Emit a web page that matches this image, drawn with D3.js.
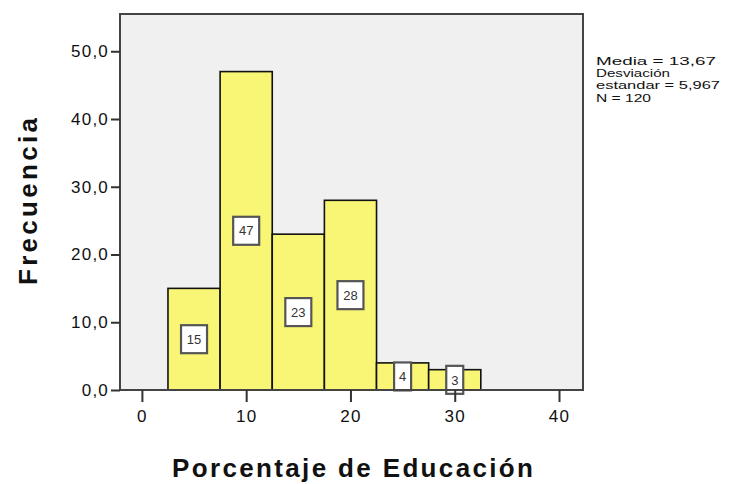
<!DOCTYPE html>
<html>
<head>
<meta charset="utf-8">
<script src="https://cdn.jsdelivr.net/npm/d3@7"></script>
<style>
html,body{margin:0;padding:0;background:#fff;}
svg{display:block;}
</style>
</head>
<body>
<svg id="chart" width="743" height="484"></svg>
<script>
const binEdges = [2.5, 7.5, 12.5, 17.5, 22.5, 27.5, 32.5];
const counts = [15, 47, 23, 28, 4, 3];
const xTicks = [0, 10, 20, 30, 40];
const yTicks = [0, 10, 20, 30, 40, 50];
const statsLines = ["Media = 13,67", "Desviación", "estandar = 5,967", "N = 120"];
const statsWidths = [120, 74, 124, 55];
const xTitle = "Porcentaje de Educación";
const yTitle = "Frecuencia";

const svg = d3.select("#chart");
const L = 120, R = 583, T = 14, B = 390;
const x = d3.scaleLinear().domain([-2.1, 42.3]).range([L, R]);
const y = d3.scaleLinear().domain([0, 55.5]).range([B, T]);
const font = "'Liberation Sans', Arial, sans-serif";

svg.append("rect").attr("x", L).attr("y", T).attr("width", R - L).attr("height", B - T)
  .attr("fill", "#f0f0f0");

const bins = counts.map((c, i) => ({x0: binEdges[i], x1: binEdges[i + 1], c}));

svg.append("g").selectAll("rect").data(bins).join("rect")
  .attr("x", d => x(d.x0)).attr("width", d => x(d.x1) - x(d.x0))
  .attr("y", d => y(d.c)).attr("height", d => y(0) - y(d.c))
  .attr("fill", "#faf675").attr("stroke", "#111").attr("stroke-width", 1.6);

// value labels
const lab = svg.append("g").selectAll("g").data(bins).join("g")
  .attr("transform", d => `translate(${x((d.x0 + d.x1) / 2)},${(y(d.c) + y(0)) / 2})`);
lab.append("rect")
  .attr("x", d => -(String(d.c).length === 1 ? 8.5 : 13))
  .attr("width", d => String(d.c).length === 1 ? 17 : 26)
  .attr("y", -14).attr("height", 28)
  .attr("fill", "#fff").attr("stroke", "#555").attr("stroke-width", 2.2);
lab.append("text").text(d => d.c)
  .attr("text-anchor", "middle").attr("dy", "0.36em")
  .attr("font-family", font).attr("font-size", 13).attr("fill", "#333");

// frame
svg.append("rect").attr("x", L).attr("y", T).attr("width", R - L).attr("height", B - T)
  .attr("fill", "none").attr("stroke", "#444").attr("stroke-width", 2);

// axes
const yAxis = d3.axisLeft(y).tickValues(yTicks).tickSize(9).tickPadding(2)
  .tickFormat(d => d3.format(".1f")(d).replace(".", ","));
const gy = svg.append("g").attr("transform", `translate(${L},0)`).call(yAxis);
gy.select(".domain").remove();
gy.selectAll("line").attr("stroke", "#333").attr("stroke-width", 2);
gy.selectAll("text").attr("font-family", font).attr("font-size", 17)
  .attr("letter-spacing", 1.2).attr("fill", "#111");

const xAxis = d3.axisBottom(x).tickValues(xTicks).tickSize(12).tickPadding(8);
const gx = svg.append("g").attr("transform", `translate(0,${B})`).call(xAxis);
gx.select(".domain").remove();
gx.selectAll("line").attr("stroke", "#333").attr("stroke-width", 2);
gx.selectAll("text").attr("font-family", font).attr("font-size", 17)
  .attr("letter-spacing", 1.2).attr("fill", "#111");

// titles
svg.append("text").text(xTitle)
  .attr("x", 172).attr("y", 477)
  .attr("textLength", 361).attr("lengthAdjust", "spacing")
  .attr("font-family", font).attr("font-weight", "bold").attr("font-size", 26)
  .attr("fill", "#111");
svg.append("text").text(yTitle)
  .attr("transform", "translate(37,285) rotate(-90)")
  .attr("textLength", 167).attr("lengthAdjust", "spacing")
  .attr("font-family", font).attr("font-weight", "bold").attr("font-size", 26)
  .attr("fill", "#111");

// stats
svg.append("g").selectAll("text").data(statsLines).join("text")
  .text(d => d)
  .attr("x", 596).attr("y", (d, i) => 65 + i * 12.2)
  .attr("textLength", (d, i) => statsWidths[i]).attr("lengthAdjust", "spacingAndGlyphs")
  .attr("font-family", font).attr("font-size", 10.5).attr("fill", "#111");
</script>
</body>
</html>
